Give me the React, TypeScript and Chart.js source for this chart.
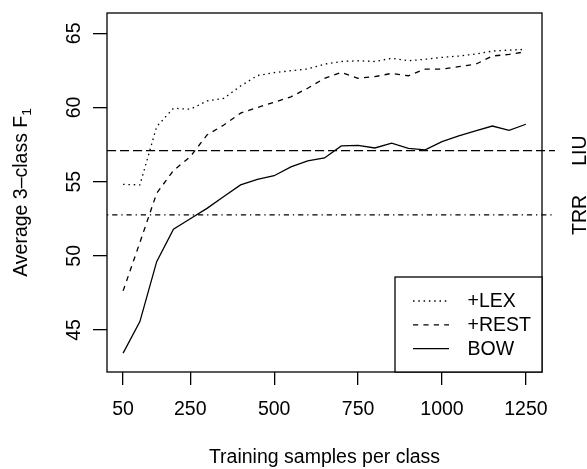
import React, { useEffect, useRef } from "react";
import { Chart, registerables } from "chart.js";

Chart.register(...registerables);

// ---------- data ----------
const samples = [50, 100, 150, 200, 250, 300, 350, 400, 450, 500, 550, 600, 650, 700, 750, 800, 850, 900, 950, 1000, 1050, 1100, 1150, 1200, 1250];
const lexScores = [54.82, 54.78, 58.71, 59.95, 59.88, 60.44, 60.62, 61.45, 62.15, 62.35, 62.48, 62.6, 62.92, 63.1, 63.15, 63.1, 63.32, 63.15, 63.25, 63.38, 63.47, 63.6, 63.8, 63.87, 63.92];
const restScores = [47.64, 50.9, 54.22, 55.75, 56.68, 58.15, 58.82, 59.62, 60.0, 60.35, 60.72, 61.3, 61.97, 62.37, 61.97, 62.08, 62.3, 62.14, 62.59, 62.59, 62.75, 62.91, 63.47, 63.58, 63.76];
const bowScores = [43.44, 45.57, 49.61, 51.79, 52.5, 53.2, 54.0, 54.78, 55.15, 55.4, 56.0, 56.4, 56.6, 57.41, 57.45, 57.27, 57.59, 57.25, 57.14, 57.7, 58.08, 58.42, 58.75, 58.46, 58.87];
const seriesNames = ["+LEX", "+REST", "BOW"];
const refNames = ["LIU", "TRR"];
const refValues = [57.09, 52.76];
const xTicks = [50, 250, 500, 750, 1000, 1250];
const yTicks = [45, 50, 55, 60, 65];
const xTitle = "Training samples per class";
const yTitleMain = "Average 3\u2013class F";
const yTitleSub = "1";

// ---------- styles ----------
const FONT_FAMILY = '"Liberation Sans", Arial, Helvetica, sans-serif';
const FS = 19.5;
const LW = 1.3;
const seriesDash = [[1.5, 3.8], [5.2, 5.2], []];
const refDash = [[9.1, 3.9], [1.3, 3.9, 5.2, 3.9]];

const overlayPlugin = {
  id: "overlay",
  afterDraw(chart: any) {
    const ctx = chart.ctx as CanvasRenderingContext2D;
    const a = chart.chartArea;
    const yScale = chart.scales.y;
    ctx.save();
    ctx.fillStyle = "#000";
    ctx.strokeStyle = "#000";
    ctx.font = `${FS}px ${FONT_FAMILY}`;

    // reference lines
    refValues.forEach((v, i) => {
      const py = yScale.getPixelForValue(v);
      ctx.save();
      ctx.lineWidth = LW;
      ctx.setLineDash(refDash[i]);
      ctx.beginPath();
      ctx.moveTo(a.left, py);
      ctx.lineTo(a.right + 13, py);
      ctx.stroke();
      ctx.restore();
      ctx.save();
      ctx.translate(a.right + 43.5, py);
      ctx.rotate(-Math.PI / 2);
      ctx.textAlign = "center";
      ctx.textBaseline = "alphabetic";
      ctx.fillText(refNames[i], 0, 0);
      ctx.restore();
    });

    // box
    ctx.lineWidth = LW;
    ctx.setLineDash([]);
    ctx.strokeRect(a.left, a.top, a.right - a.left, a.bottom - a.top);

    // y tick labels (rotated)
    yScale.ticks.forEach((t: any) => {
      const py = yScale.getPixelForValue(t.value);
      ctx.save();
      ctx.translate(a.left - 27, py);
      ctx.rotate(-Math.PI / 2);
      ctx.textAlign = "center";
      ctx.textBaseline = "alphabetic";
      ctx.fillText(String(t.value), 0, 0);
      ctx.restore();
    });

    // y title with subscript
    {
      const mainW = ctx.measureText(yTitleMain).width;
      ctx.font = `${FS * 0.7}px ${FONT_FAMILY}`;
      const subW = ctx.measureText(yTitleSub).width;
      const total = mainW + subW;
      const cy = (a.top + a.bottom) / 2;
      ctx.save();
      ctx.translate(a.left - 80, cy);
      ctx.rotate(-Math.PI / 2);
      ctx.textAlign = "left";
      ctx.textBaseline = "alphabetic";
      ctx.font = `${FS}px ${FONT_FAMILY}`;
      ctx.fillText(yTitleMain, -total / 2, 0);
      ctx.font = `${FS * 0.7}px ${FONT_FAMILY}`;
      ctx.fillText(yTitleSub, -total / 2 + mainW, 4);
      ctx.restore();
      ctx.font = `${FS}px ${FONT_FAMILY}`;
    }

    // x title
    ctx.textAlign = "center";
    ctx.textBaseline = "alphabetic";
    ctx.fillText(xTitle, (a.left + a.right) / 2, a.bottom + 91);

    // legend (bottom right)
    const bw = 147, bh = 95;
    const bx = a.right - bw, by = a.bottom - bh;
    ctx.fillStyle = "#fff";
    ctx.fillRect(bx, by, bw, bh);
    ctx.fillStyle = "#000";
    ctx.lineWidth = LW;
    ctx.strokeRect(bx, by, bw, bh);
    const ds = chart.data.datasets;
    ds.forEach((d: any, i: number) => {
      const ry = by + 24 + i * 23.8;
      ctx.save();
      ctx.lineWidth = LW;
      ctx.setLineDash(d.borderDash || []);
      ctx.beginPath();
      ctx.moveTo(bx + 18, ry);
      ctx.lineTo(bx + 54, ry);
      ctx.stroke();
      ctx.restore();
      ctx.textAlign = "left";
      ctx.textBaseline = "middle";
      ctx.fillText(d.label, bx + 72.5, ry + 1);
    });
    ctx.restore();
  },
};

export default function App() {
  const ref = useRef<HTMLCanvasElement | null>(null);
  useEffect(() => {
    if (!ref.current) return;
    const seriesValues = [lexScores, restScores, bowScores];
    const chart = new Chart(ref.current, {
      type: "line",
      data: {
        datasets: seriesNames.map((name, i) => ({
          label: name,
          data: samples.map((s, j) => ({ x: s, y: seriesValues[i][j] })),
          borderColor: "#000",
          borderWidth: LW,
          borderDash: seriesDash[i],
          pointRadius: 0,
          tension: 0,
          fill: false,
        })),
      },
      options: {
        animation: false,
        responsive: false,
        devicePixelRatio: 1,
        layout: { padding: { left: 0, top: 13, right: 45, bottom: 0 } },
        plugins: { legend: { display: false }, tooltip: { enabled: false } },
        scales: {
          x: {
            type: "linear",
            min: 2,
            max: 1298,
            afterBuildTicks: (s: any) => {
              s.ticks = xTicks.map((v) => ({ value: v }));
            },
            afterFit: (s: any) => {
              s.height = 97;
            },
            grid: { display: true, drawOnChartArea: false, drawTicks: true, tickLength: 13, color: "#000", lineWidth: LW },
            border: { display: false },
            ticks: {
              autoSkip: false,
              maxRotation: 0,
              minRotation: 0,
              padding: 13.2,
              color: "#000",
              font: { family: FONT_FAMILY, size: FS },
              callback: (v: any) => String(v),
            },
          },
          y: {
            type: "linear",
            min: 42.17,
            max: 66.37,
            afterBuildTicks: (s: any) => {
              s.ticks = yTicks.map((v) => ({ value: v }));
            },
            afterFit: (s: any) => {
              s.width = 107;
            },
            grid: { display: true, drawOnChartArea: false, drawTicks: true, tickLength: 14, color: "#000", lineWidth: LW },
            border: { display: false },
            ticks: { display: false },
          },
        },
      },
      plugins: [overlayPlugin],
    });
    return () => chart.destroy();
  }, []);
  return (
    <div style={{ position: "absolute", left: 0, top: 0, width: 587, height: 469, background: "#fff" }}>
      <canvas ref={ref} width={587} height={469} style={{ display: "block" }} />
    </div>
  );
}
